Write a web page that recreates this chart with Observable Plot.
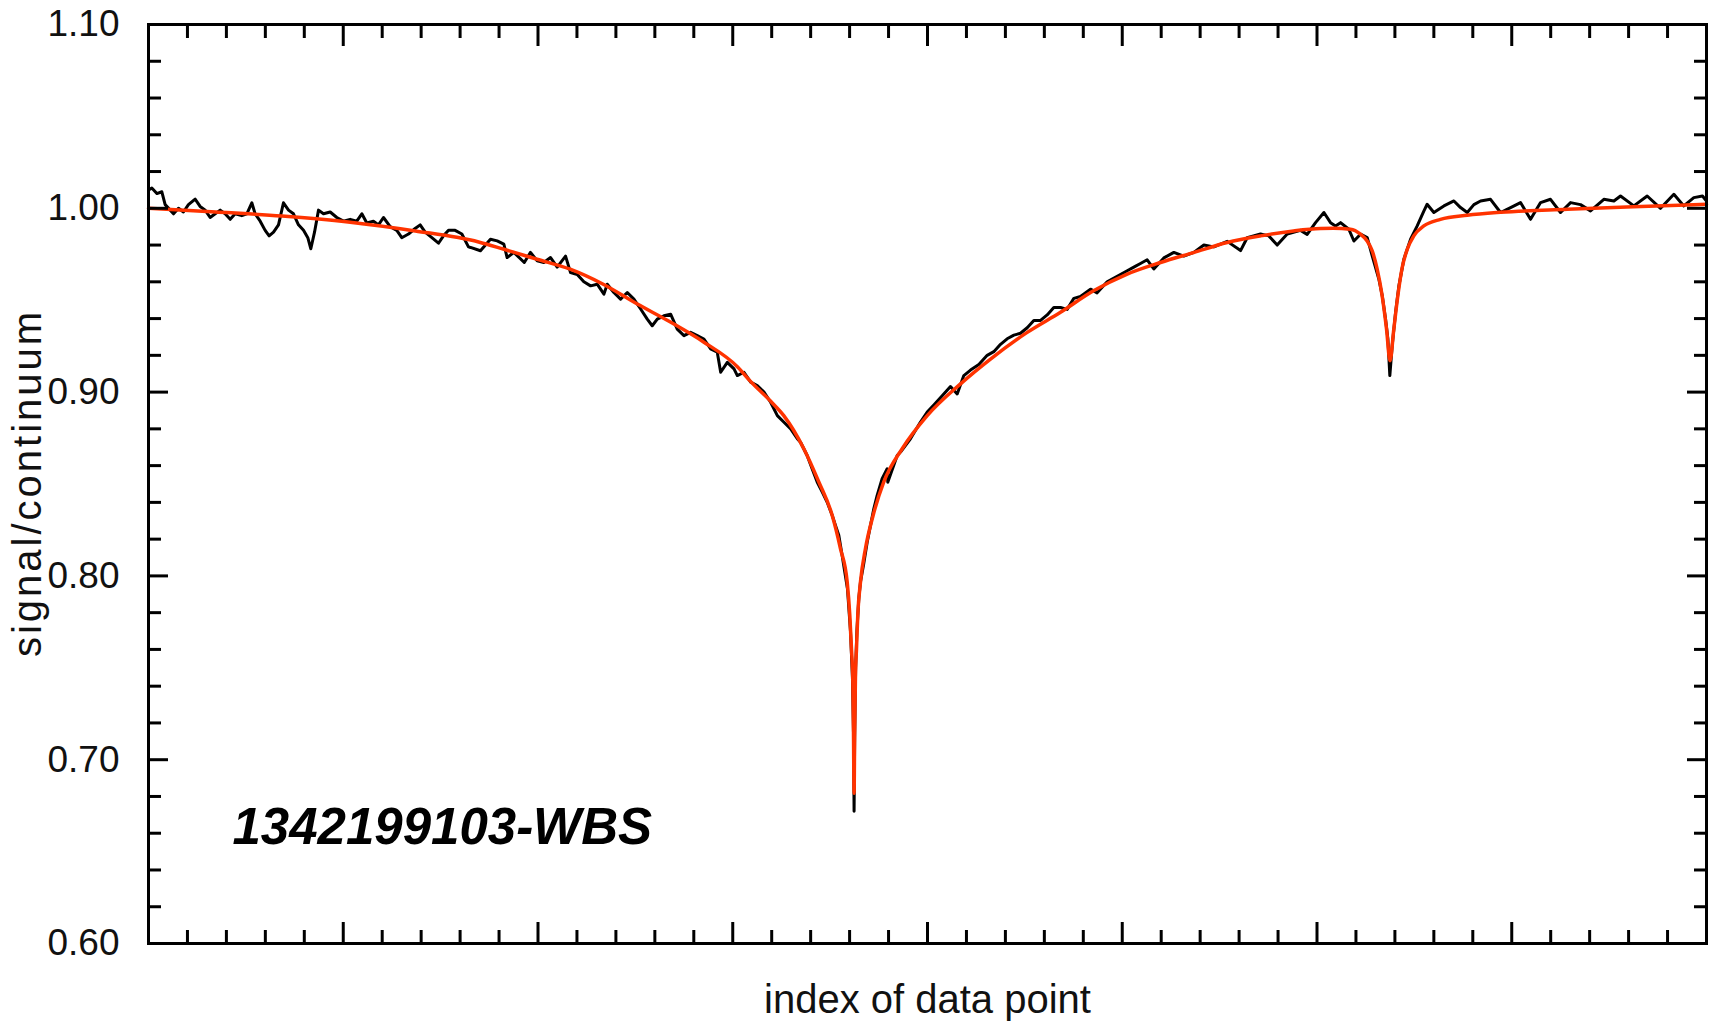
<!DOCTYPE html>
<html>
<head>
<meta charset="utf-8">
<script src="https://cdn.jsdelivr.net/npm/d3@7"></script>
<script src="https://cdn.jsdelivr.net/npm/@observablehq/plot@0.6"></script>
<style>
  html, body { margin: 0; padding: 0; background: #fff; }
  #chart { width: 1715px; height: 1021px; }
</style>
</head>
<body>
<div id="chart"></div>
<script>
// measured spectrum: [index of data point, signal/continuum]
const spectrum = [
  [0,1.010],[3.4,1.011],[8.6,1.008],[13.7,1.009],[17.1,1.002],[22.3,0.999],[25.7,0.997],[30.8,1.000],
  [35.9,0.998],[41.0,1.002],[47.9,1.005],[53.0,1.001],[58.2,0.999],[63.3,0.995],[68.5,0.997],[73.6,0.999],
  [78.7,0.997],[83.9,0.994],[89.0,0.997],[95.8,0.996],[101.0,0.997],[106.1,1.003],[109.5,0.997],[114.7,0.993],
  [119.8,0.988],[123.9,0.985],[128.4,0.987],[133.5,0.991],[138.6,1.003],[143.8,0.999],[148.9,0.997],[154.0,0.991],
  [159.2,0.988],[163.6,0.984],[166.7,0.978],[170.5,0.987],[174.6,0.999],[179.7,0.997],[186.6,0.998],[193.4,0.995],
  [200.2,0.993],[207.1,0.994],[213.9,0.993],[219.1,0.997],[224.2,0.992],[231.0,0.993],[236.2,0.991],[241.3,0.995],
  [248.2,0.990],[255.0,0.988],[260.1,0.984],[267.0,0.986],[273.8,0.989],[279.0,0.991],[284.1,0.987],[291.0,0.984],
  [297.8,0.981],[302.9,0.985],[308.1,0.988],[314.9,0.988],[321.8,0.986],[328.6,0.979],
  [330.7,0.9787],[340.9,0.9769],[351.2,0.9832],[358.1,0.9823],[364.9,0.9805],[368.3,0.9732],[375.2,0.976],
  [385.9,0.9705],[392.3,0.976],[399.2,0.9714],[406.0,0.9705],[412.9,0.9732],[419.7,0.968],[428.3,0.974],
  [433.4,0.965],[440.3,0.964],[447.1,0.960],[454.0,0.9578],[460.8,0.9587],[467.7,0.9533],[471.1,0.9587],
  [477.9,0.9542],[484.8,0.9506],[491.7,0.9542],[498.5,0.9506],[505.4,0.9452],[512.2,0.9397],[517.3,0.9361],
  [522.5,0.9397],[529.3,0.9415],[536.2,0.9424],[543.0,0.9343],[549.9,0.9307],[556.7,0.9325],[563.6,0.9307],
  [570.4,0.9289],[577.3,0.9235],[584.1,0.9217],[587.6,0.9108],[594.4,0.9162],[601.3,0.9126],[604.7,0.909],
  [611.5,0.9108],[618.4,0.9054],[625.2,0.9036],[632.1,0.900],[638.9,0.8945],[645.8,0.8872],[652.6,0.8836],
  [659.5,0.880],[666.3,0.8746],
  [669.6,0.8727],[676.4,0.8655],[681.5,0.8583],[686.7,0.8511],[691.8,0.8457],[696.9,0.8402],[702.1,0.833],
  [705.5,0.8275],[708.9,0.8221],[712.3,0.8112],[717.8,0.793],[720.9,0.770],[722.9,0.745],[724.0,0.715],
  [724.6,0.672],[725.2,0.712],[726.2,0.750],[727.5,0.770],[729.5,0.788],[731.2,0.7968],[734.3,0.806],
  [738.1,0.8185],[744.9,0.8366],[748.3,0.8438],[753.4,0.8529],[758.6,0.8583],[759.2,0.851],[768.9,0.8655],
  [772.3,0.8674],[782.5,0.8746],[792.8,0.8837],[799.7,0.8891],[806.5,0.893],[815.1,0.898],[823.6,0.903],
  [830.5,0.899],[837.3,0.909],[844.2,0.912],[852.7,0.915],[861.3,0.920],[868.1,0.922],[875.0,0.926],
  [881.8,0.929],[888.7,0.931],[895.5,0.932],[902.4,0.935],[909.2,0.939],[916.1,0.939],[922.9,0.942],
  [929.7,0.946],[936.6,0.946],[943.4,0.945],[950.3,0.951],[957.1,0.952],[967.4,0.956],[974.2,0.954],
  [984.5,0.960],[994.8,0.963],[1005.1,0.966],[1011.9,0.968],[1018.7,0.970],[1025.6,0.972],[1032.4,0.967],
  [1042.7,0.973],[1053.0,0.976],[1063.2,0.974],[1073.5,0.976],[1083.8,0.980],[1094.1,0.979],[1107.8,0.982],
  [1121.5,0.977],[1128.3,0.984],[1142.0,0.986],[1150.5,0.985],[1159.1,0.980],[1169.4,0.986],[1183.1,0.988],
  [1189.9,0.9858],[1198.5,0.9922],[1207.1,0.9977],[1213.9,0.9922],[1219.0,0.9904],[1224.2,0.9922],[1232.7,0.9886],
  [1237.9,0.9822],[1244.7,0.9859],[1251.6,0.9841],[1256.7,0.9741],[1263.5,0.9615],[1267.0,0.9524],[1270.4,0.9397],
  [1272.8,0.9289],[1274.8,0.909],[1277.2,0.9252],[1280.7,0.9434],[1284.1,0.9578],[1289.2,0.9723],[1296.1,0.9832],
  [1302.9,0.9904],[1309.7,0.9985],[1313.1,1.0022],[1320.0,0.9977],[1330.3,1.0013],
  [1340.6,1.004],[1347.4,1.0004],[1354.3,0.9977],[1361.1,1.002],[1368.0,1.004],[1378.2,1.0049],[1388.5,0.9977],
  [1398.8,1.0004],[1409.0,1.0031],[1419.3,0.994],[1429.6,1.0031],[1439.8,1.0049],[1450.1,0.9977],[1460.4,1.0031],
  [1470.6,1.002],[1480.9,0.9986],[1494.6,1.0049],[1504.9,1.004],[1511.7,1.0067],[1525.4,1.0013],[1539.1,1.0067],
  [1552.8,1.000],[1566.5,1.0076],[1576.7,1.0013],[1587.0,1.0058],[1595.9,1.0067],[1600,1.004]
];

// fitted profile: [index of data point, signal/continuum]
const fit = [
  [0,1.000],[69,0.998],[137,0.9958],[205,0.9926],[274,0.9877],[339,0.9817],[365,0.9777],[399,0.9723],
  [433,0.9669],[467,0.9587],[502,0.9479],[536,0.9381],[570,0.9273],[605,0.9137],[618,0.906],[639,0.895],
  [652.4,0.8872],[673.0,0.8692],[688.4,0.8511],[702.1,0.8330],[710.6,0.8149],[717.5,0.7968],[720.2,0.7787],
  [721.9,0.7606],[723.3,0.7425],[724.0,0.715],[724.6,0.6817],[725.2,0.715],[726.0,0.745],[727.1,0.7606],
  [728.4,0.7787],[731.2,0.7968],[736.3,0.8149],[744.2,0.8330],[755.1,0.8511],[774.0,0.8692],[799.7,0.8872],
  [833.9,0.9045],[864.7,0.9180],[902.4,0.9325],[936.6,0.9434],[970.5,0.9551],[1005.1,0.9642],[1039.3,0.9705],
  [1073.2,0.9759],[1107.8,0.9814],[1142.0,0.9850],[1175.9,0.9877],[1203.6,0.9890],[1216.9,0.9891],[1234.4,0.9886],
  [1244.6,0.9859],[1251.5,0.9822],[1256.7,0.9768],[1261.8,0.9669],[1266.9,0.9524],[1271.4,0.9343],[1275.0,0.9171],
  [1278.9,0.9343],[1283.0,0.9524],[1287.5,0.9678],[1292.7,0.9777],[1299.4,0.9850],[1309.7,0.9904],[1326.8,0.9940],
  [1354.3,0.9962],[1388.4,0.9978],[1457.0,0.9995],[1525.0,1.0009],[1600,1.0022]
];

const xDomain = [0, 1600];
const yDomain = [0.60, 1.10];
const yTickLabels = [0.60, 0.70, 0.80, 0.90, 1.00, 1.10];
const yMajorInner = [0.70, 0.80, 0.90, 1.00];
const yMinor = [0.62,0.64,0.66,0.68,0.72,0.74,0.76,0.78,0.82,0.84,0.86,0.88,0.92,0.94,0.96,0.98,1.02,1.04,1.06,1.08];
const xMajor = [200, 400, 600, 800, 1000, 1200, 1400];
const xMinor = d3.range(40, 1600, 40).filter(v => v % 200 !== 0);

const annotation = "1342199103-WBS";
const xTitle = "index of data point";
const yTitle = "signal/continuum";

const tickOnly = { stroke: "#000", strokeWidth: 3, tickFormat: () => "", label: null, strokeLinecap: "butt" };

const chart = Plot.plot({
  width: 1715,
  height: 1021,
  marginLeft: 148,
  marginRight: 9,
  marginTop: 24,
  marginBottom: 78,
  style: { fontFamily: "'Liberation Sans', Arial, sans-serif", background: "#fff", color: "#000", overflow: "visible" },
  x: { domain: xDomain },
  y: { domain: yDomain },
  marks: [
    Plot.line(spectrum, { x: d => d[0], y: d => d[1], stroke: "#000", strokeWidth: 3 }),
    Plot.line(fit, { x: d => d[0], y: d => d[1], stroke: "#ff3300", strokeWidth: 3.5, curve: "monotone-x" }),
    Plot.frame({ stroke: "#000", strokeWidth: 3 }),
    Plot.axisY({ anchor: "left", ticks: yTickLabels, tickSize: 0, tickPadding: 29, tickFormat: d3.format(".2f"), fontSize: 37, label: null, fill: "#111" }),
    Plot.axisY({ anchor: "left", ticks: yMajorInner, tickSize: -20, ...tickOnly }),
    Plot.axisY({ anchor: "left", ticks: yMinor, tickSize: -13, ...tickOnly }),
    Plot.axisY({ anchor: "right", ticks: yMajorInner, tickSize: -20, ...tickOnly }),
    Plot.axisY({ anchor: "right", ticks: yMinor, tickSize: -13, ...tickOnly }),
    Plot.axisX({ anchor: "bottom", ticks: xMajor, tickSize: -21, ...tickOnly }),
    Plot.axisX({ anchor: "bottom", ticks: xMinor, tickSize: -13, ...tickOnly }),
    Plot.axisX({ anchor: "top", ticks: xMajor, tickSize: -21, ...tickOnly }),
    Plot.axisX({ anchor: "top", ticks: xMinor, tickSize: -13, ...tickOnly }),
    Plot.text([annotation], { text: d => d, frameAnchor: "bottom-left", dx: 84, dy: -100, textAnchor: "start", lineAnchor: "bottom", fontSize: 51, fontWeight: "bold", fontStyle: "italic", fill: "#000" }),
    Plot.text([xTitle], { text: d => d, frameAnchor: "bottom", textAnchor: "middle", lineAnchor: "middle", dy: 57, fontSize: 40, fill: "#111" }),
    Plot.text([yTitle], { text: d => d, frameAnchor: "left", textAnchor: "middle", lineAnchor: "middle", rotate: -90, dx: -120, dy: -1, fontSize: 40, fill: "#111" })
  ]
});

chart.querySelectorAll("text").forEach(t => {
  if (t.textContent === yTitle) t.style.letterSpacing = "3px";
});
document.getElementById("chart").appendChild(chart);
</script>
</body>
</html>
